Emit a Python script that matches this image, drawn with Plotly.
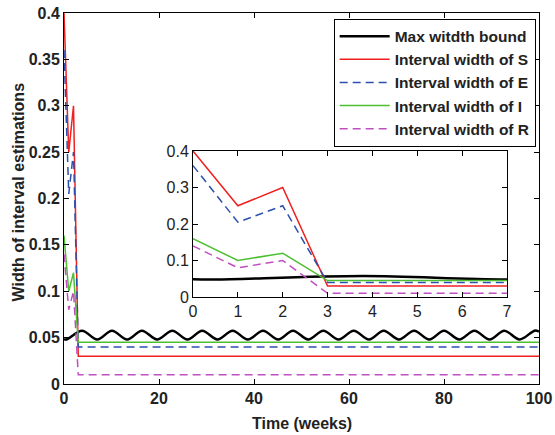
import plotly.graph_objects as go

# ---- data ----
weeks = [0, 1, 2, 3, 100]
width_S = [0.40, 0.25, 0.30, 0.03, 0.03]
width_E = [0.36, 0.205, 0.25, 0.04, 0.04]
width_I = [0.16, 0.10, 0.12, 0.045, 0.045]
width_R = [0.14, 0.08, 0.10, 0.01, 0.01]

# max width bound: oscillating curve (key points = troughs / peaks)
bound_t = [0, 0.5, 3.8, 7.0, 10.1, 13.3, 16.4, 19.6, 22.8, 26.0, 29.1, 32.3,
           35.5, 38.7, 41.9, 45.1, 48.2, 51.4, 54.6, 57.8, 61.0, 64.2, 67.3,
           70.5, 73.7, 76.9, 80.0, 83.2, 86.4, 89.6, 92.7, 95.9, 99.1, 100]
bound_v = [0.0485, 0.048, 0.0575, 0.048, 0.0575, 0.048, 0.0575, 0.048, 0.0575,
           0.048, 0.0575, 0.048, 0.0575, 0.048, 0.0575, 0.048, 0.0575, 0.048,
           0.0575, 0.048, 0.0575, 0.048, 0.0575, 0.048, 0.0575, 0.048, 0.0575,
           0.048, 0.0575, 0.048, 0.0575, 0.048, 0.0575, 0.0565]

main_xticks = [0, 20, 40, 60, 80, 100]
main_yticks = [0, 0.05, 0.1, 0.15, 0.2, 0.25, 0.3, 0.35, 0.4]
inset_xticks = [0, 1, 2, 3, 4, 5, 6, 7]
inset_yticks = [0, 0.1, 0.2, 0.3, 0.4]

series = [
    ("Interval width of S", width_S, "#f02020", None),
    ("Interval width of E", width_E, "#2c50b0", "8px,5px"),
    ("Interval width of I", width_I, "#4cbf30", None),
    ("Interval width of R", width_R, "#c050c0", "8px,5px"),
]

fig = go.Figure()
for xa, ya, show in [("x", "y", True), ("x2", "y2", False)]:
    fig.add_trace(go.Scatter(x=bound_t, y=bound_v, mode="lines", name="Max witdth bound",
                             line=dict(color="black", width=2.5, shape="spline"),
                             xaxis=xa, yaxis=ya, showlegend=show))
    for name, vals, col, dash in series:
        fig.add_trace(go.Scatter(x=weeks, y=vals, mode="lines", name=name,
                                 line=dict(color=col, width=1.5, dash=dash),
                                 xaxis=xa, yaxis=ya, showlegend=show))

axis_common = dict(showline=True, linecolor="black", linewidth=1, mirror="ticks",
                   ticks="inside", ticklen=5, tickcolor="black", showgrid=False,
                   zeroline=False, automargin=False)

title_font = dict(size=16, weight="bold")

fig.update_layout(
    width=555, height=435,
    margin=dict(l=64, r=16, t=13, b=51),
    paper_bgcolor="white", plot_bgcolor="white",
    font=dict(family="Liberation Sans, Arial, sans-serif", color="#222222"),
    xaxis=dict(range=[0, 100], tickvals=main_xticks,
               tickfont=dict(size=16, weight="bold"), **axis_common),
    yaxis=dict(range=[0, 0.4], tickvals=main_yticks,
               tickfont=dict(size=16, weight="bold"), **axis_common),
    xaxis2=dict(domain=[0.2716, 0.9326], anchor="y2", range=[0, 7],
                tickvals=inset_xticks, tickfont=dict(size=16), **axis_common),
    yaxis2=dict(domain=[0.2345, 0.628], anchor="x2", range=[0, 0.4],
                tickvals=inset_yticks, tickfont=dict(size=16), **axis_common),
    legend=dict(x=0.993, y=0.985, xanchor="right", yanchor="top",
                bgcolor="white", bordercolor="black", borderwidth=1,
                itemwidth=50,
                font=dict(size=15.5, weight="bold"), tracegroupgap=0),
    annotations=[
        dict(text="Time (weeks)", xref="paper", yref="paper", x=0.5, y=0,
             xanchor="center", yanchor="middle", yshift=-39, showarrow=False,
             font=title_font),
        dict(text="Width of interval estimations", xref="paper", yref="paper", x=0, y=0.5,
             xanchor="center", yanchor="middle", xshift=-46, yshift=6, textangle=-90,
             showarrow=False, font=title_font),
    ],
)

# remove the default 8px page margin so the figure sits at the window origin
fig.write_html("out.html", config={"displayModeBar": False},
               post_script="document.body.style.margin='0';document.body.style.overflow='hidden';")
